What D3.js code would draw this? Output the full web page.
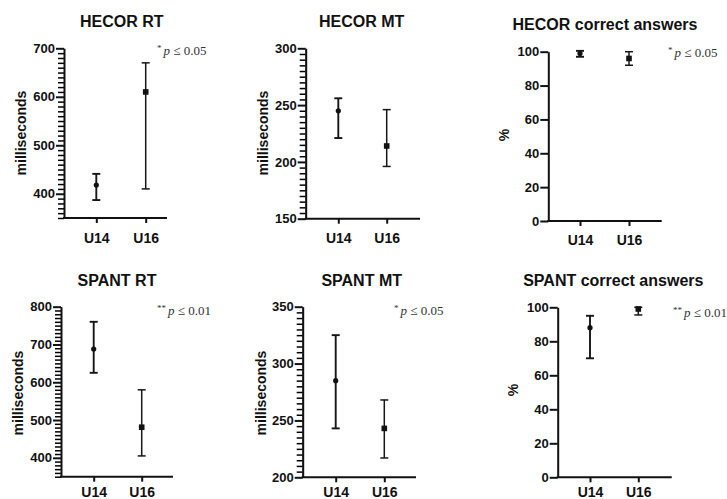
<!DOCTYPE html>
<html>
<head>
<meta charset="utf-8">
<script src="https://cdn.jsdelivr.net/npm/d3@7"></script>
<style>
	body { margin: 0; background: #fff; }
	svg { display: block; font-family: "Liberation Sans", Arial, sans-serif; }
	.axis path, .axis line { stroke: #111; }
	.axis text { fill: #111; font-weight: bold; }
	.title { font-weight: bold; font-size: 16px; fill: #111; }
	.ylabel { font-weight: bold; font-size: 14px; fill: #111; }
	.note { font-family: "Liberation Serif", "DejaVu Serif", serif; font-size: 13px; fill: #333; }
</style>
</head>
<body>
<script>
(function() {

	// groups on the x-axis
	var groups = ["U14", "U16"];

	// mean, lower and upper end of the error bar, per group
	var hecorRtMean = [418, 610];
	var hecorRtLow = [387, 410];
	var hecorRtHigh = [441, 670];

	var hecorMtMean = [245, 214];
	var hecorMtLow = [221, 196];
	var hecorMtHigh = [256, 246];

	var hecorCorrectMean = [99, 96];
	var hecorCorrectLow = [97, 92];
	var hecorCorrectHigh = [100.5, 100];

	var spantRtMean = [688, 481];
	var spantRtLow = [625, 405];
	var spantRtHigh = [760, 580];

	var spantMtMean = [285, 243];
	var spantMtLow = [243, 217];
	var spantMtHigh = [325, 268];

	var spantCorrectMean = [88, 99];
	var spantCorrectLow = [70, 95.5];
	var spantCorrectHigh = [95, 100];

	// tick labels of each y-axis
	var rtTicks = [400, 500, 600, 700];
	var hecorMtTicks = [150, 200, 250, 300];
	var pctTicks = [0, 20, 40, 60, 80, 100];
	var spantRtTicks = [400, 500, 600, 700, 800];
	var spantMtTicks = [200, 250, 300, 350];

	var titles = ["HECOR RT", "HECOR MT", "HECOR correct answers", "SPANT RT", "SPANT MT", "SPANT correct answers"];
	var notes = ["p \u2264 0.05", null, "p \u2264 0.05", "p \u2264 0.01", "p \u2264 0.05", "p \u2264 0.01"];
	var stars = ["*", null, "*", "**", "*", "**"];

	var svg = d3.select("body")
		.append("svg")
		.attr("width", 727)
		.attr("height", 499);

	// layout of every panel (axis corner, extents, positions of texts)
	var panels = [
		{ mean: hecorRtMean, low: hecorRtLow, high: hecorRtHigh, domain: [350, 700], ticks: rtTicks, minor: 10,
		  x0: 64, x1: 167, top: 48.3, bottom: 218, cat: [96.3, 145.7], label: "milliseconds",
		  tx: 121.7, ty: 27, lx: 20.7, ly: 133, nx: 157, ny: 55, xl: 243 },
		{ mean: hecorMtMean, low: hecorMtLow, high: hecorMtHigh, domain: [150, 300], ticks: hecorMtTicks, minor: 5,
		  x0: 305.7, x1: 420, top: 48.3, bottom: 218.7, cat: [338.3, 386.7], label: "milliseconds",
		  tx: 361.7, ty: 27, lx: 263.3, ly: 133, xl: 243 },
		{ mean: hecorCorrectMean, low: hecorCorrectLow, high: hecorCorrectHigh, domain: [0, 100], ticks: pctTicks, minor: 0,
		  x0: 548.3, x1: 661.7, top: 51.7, bottom: 221, cat: [580, 629], label: "%",
		  tx: 605, ty: 30, lx: 504, ly: 135, nx: 668, ny: 57, xl: 245 },
		{ mean: spantRtMean, low: spantRtLow, high: spantRtHigh, domain: [350, 800], ticks: spantRtTicks, minor: 10,
		  x0: 61, x1: 173, top: 306.7, bottom: 476.7, cat: [93.7, 141.7], label: "milliseconds",
		  tx: 117, ty: 286, lx: 18.3, ly: 393, nx: 157, ny: 315, xl: 497 },
		{ mean: spantMtMean, low: spantMtLow, high: spantMtHigh, domain: [200, 350], ticks: spantMtTicks, minor: 5,
		  x0: 302.7, x1: 416, top: 306.7, bottom: 477.3, cat: [335.7, 384.3], label: "milliseconds",
		  tx: 361.7, ty: 286, lx: 260.7, ly: 393, nx: 394, ny: 315, xl: 497 },
		{ mean: spantCorrectMean, low: spantCorrectLow, high: spantCorrectHigh, domain: [0, 100], ticks: pctTicks, minor: 0,
		  x0: 557.7, x1: 671.7, top: 307.3, bottom: 477.3, cat: [590, 638.3], label: "%",
		  tx: 613.3, ty: 286, lx: 513, ly: 390, nx: 673, ny: 317, xl: 497 }
	];

	panels.forEach(function(p, k) {
		var g = svg.append("g");

		var y = d3.scaleLinear()
			.domain(p.domain)
			.range([p.bottom, p.top]);

		var x = d3.scalePoint()
			.domain(groups)
			.range(p.cat);

		// minor ticks (a dense comb along the y-axis)
		if (p.minor) {
			var minorVals = d3.range(p.domain[0], p.domain[1] + 0.001, p.minor)
				.filter(function(v) { return p.ticks.indexOf(v) < 0; });
			var minorAxis = d3.axisLeft(y)
				.tickValues(minorVals)
				.tickSize(6)
				.tickSizeOuter(0)
				.tickFormat(function() { return ""; });
			var minorG = g.append("g")
				.attr("transform", "translate(" + p.x0 + ",0)")
				.call(minorAxis);
			minorG.selectAll(".tick line")
				.attr("stroke", "#000")
				.attr("stroke-width", 1.5);
		}

		// y-axis
		var yAxisG = g.append("g")
			.attr("class", "axis")
			.attr("transform", "translate(" + p.x0 + ",0)")
			.call(d3.axisLeft(y).tickValues(p.ticks).tickSize(8).tickSizeOuter(0).tickPadding(1));
		yAxisG.select(".domain").attr("stroke-width", 2);
		yAxisG.selectAll(".tick line").attr("stroke-width", 2);
		yAxisG.selectAll("text").style("font-size", "13px");

		// x-axis
		var xAxisG = g.append("g")
			.attr("class", "axis")
			.attr("transform", "translate(0," + p.bottom + ")")
			.call(d3.axisBottom(x).tickSize(5).tickSizeOuter(0).tickPadding(0));
		xAxisG.select(".domain")
			.attr("d", "M" + (p.x0 - 1) + ",0H" + p.x1)
			.attr("stroke-width", 2);
		xAxisG.selectAll(".tick line").attr("stroke-width", 2);
		xAxisG.selectAll("text")
			.style("font-size", "14px")
			.attr("dy", null)
			.attr("y", p.xl - p.bottom);

		// error bars
		var bars = g.selectAll(".bar")
			.data(groups)
			.enter().append("g")
			.attr("class", "bar")
			.attr("stroke", "#161616")
			.attr("stroke-width", function(d, i) { return i === 0 ? 1.9 : 1.5; });

		bars.append("line")
			.attr("x1", function(d) { return x(d); })
			.attr("x2", function(d) { return x(d); })
			.attr("y1", function(d, i) { return y(p.low[i]); })
			.attr("y2", function(d, i) { return y(p.high[i]); });

		[p.low, p.high].forEach(function(arr) {
			bars.append("line")
				.attr("x1", function(d) { return x(d) - 4; })
				.attr("x2", function(d) { return x(d) + 4; })
				.attr("y1", function(d, i) { return y(arr[i]); })
				.attr("y2", function(d, i) { return y(arr[i]); });
		});

		// mean markers: dot for U14, square for U16
		g.append("circle")
			.attr("cx", x(groups[0]))
			.attr("cy", y(p.mean[0]))
			.attr("r", 2.6)
			.attr("fill", "#111");
		g.append("rect")
			.attr("x", x(groups[1]) - 2.8)
			.attr("y", y(p.mean[1]) - 2.8)
			.attr("width", 5.6)
			.attr("height", 5.6)
			.attr("fill", "#111");

		// title
		g.append("text")
			.attr("class", "title")
			.attr("x", p.tx)
			.attr("y", p.ty)
			.attr("text-anchor", "middle")
			.text(titles[k]);

		// y label
		g.append("text")
			.attr("class", "ylabel")
			.attr("transform", "translate(" + p.lx + "," + p.ly + ") rotate(-90)")
			.attr("dy", "0.35em")
			.attr("text-anchor", "middle")
			.text(p.label);

		// significance note
		if (notes[k]) {
			var t = g.append("text")
				.attr("class", "note")
				.attr("x", p.nx)
				.attr("y", p.ny);
			t.append("tspan")
				.attr("font-size", "9px")
				.attr("dy", "-4")
				.text(stars[k]);
			t.append("tspan")
				.attr("dy", "4")
				.attr("dx", "2")
				.attr("font-style", "italic")
				.text(notes[k].slice(0, 1));
			t.append("tspan")
				.text(notes[k].slice(1));
		}
	});

})();
</script>
</body>
</html>
